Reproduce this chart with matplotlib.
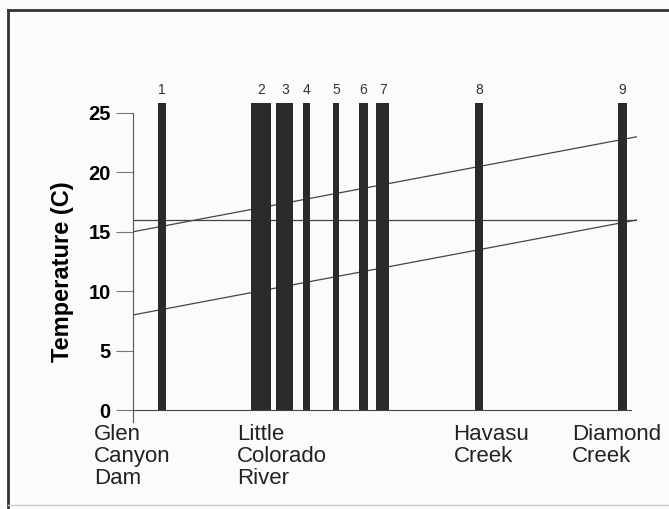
import matplotlib.pyplot as plt
from matplotlib.lines import Line2D

plt.rcParams['font.family'] = ['Liberation Sans', 'DejaVu Sans']

# Sampling sites along the river (approx. river miles)
site_ids = ['1', '2', '3', '4', '5', '6', '7', '8', '9']
site_pos = [4, 51.6, 63.2, 73.8, 87.8, 101, 110.5, 157, 226]
site_width = [3.7, 9.7, 8.2, 3.4, 2.6, 4.3, 6.3, 3.9, 3.9]
site_top = [25.8] * 9

# Temperature trend lines (start and end of reach)
line_x = [-10, 233]
warm_line = [15, 23]
flat_line = [16, 16]
cool_line = [8, 16]

landmarks = ['Glen\nCanyon\nDam', 'Little\nColorado\nRiver', 'Havasu\nCreek', 'Diamond\nCreek']
landmark_x = [-28.8, 40, 144.5, 201.5]

yticks = [0, 5, 10, 15, 20, 25]

fig = plt.figure(figsize=(6.69, 5.09), dpi=100)
fig.patch.set_facecolor('#fbfbfb')
ax = fig.add_axes([133 / 669, 1 - 410 / 509, 504 / 669, 320.8 / 509])
ax.set_facecolor('none')

for y in (warm_line, flat_line, cool_line):
    ax.plot(line_x, y, color='#444444', lw=0.9, zorder=1)

ax.bar(site_pos, site_top, width=site_width, color='#2a2a2a', zorder=2)
for x, t, lab in zip(site_pos, site_top, site_ids):
    ax.text(x, t + 0.55, lab, ha='center', va='bottom', fontsize=10, color='#333333')

ax.set_xlim(-10, 233)
ax.set_ylim(0, 27)
ax.set_yticks(yticks)
ax.set_yticklabels([str(v) for v in yticks], fontsize=14.5, fontweight='bold')
ax.tick_params(axis='y', direction='out', length=12, width=0.8, color='#777777', pad=4)
ax.set_xticks([])
ax.set_ylabel('Temperature (C)', fontsize=17, fontweight='bold')
ax.yaxis.set_label_coords(-0.118, 0.43)

for s in ('top', 'right'):
    ax.spines[s].set_visible(False)
ax.spines['left'].set_bounds(-1, 25)
ax.spines['left'].set_color('#555555')
ax.spines['left'].set_linewidth(0.8)
ax.spines['bottom'].set_bounds(-10, 230)
ax.spines['bottom'].set_color('#444444')
ax.spines['bottom'].set_linewidth(0.8)
ax.spines['left'].set_clip_on(False)

trans = ax.get_xaxis_transform()
for x, lab in zip(landmark_x, landmarks):
    ax.text(x, -0.045, lab, transform=trans, ha='left', va='top',
            fontsize=16, color='#222222', linespacing=1.05, clip_on=False)

# frame of the scanned figure
fig.add_artist(Line2D([8 / 669, 8 / 669], [0, 1 - 10 / 509], transform=fig.transFigure,
                      color='#333333', lw=2))
fig.add_artist(Line2D([8 / 669, 1], [1 - 10 / 509, 1 - 10 / 509], transform=fig.transFigure,
                      color='#333333', lw=2))
fig.add_artist(Line2D([8 / 669, 1], [4 / 509, 4 / 509], transform=fig.transFigure,
                      color='#cccccc', lw=1))

fig.savefig('out.png', dpi=100, facecolor=fig.get_facecolor())
